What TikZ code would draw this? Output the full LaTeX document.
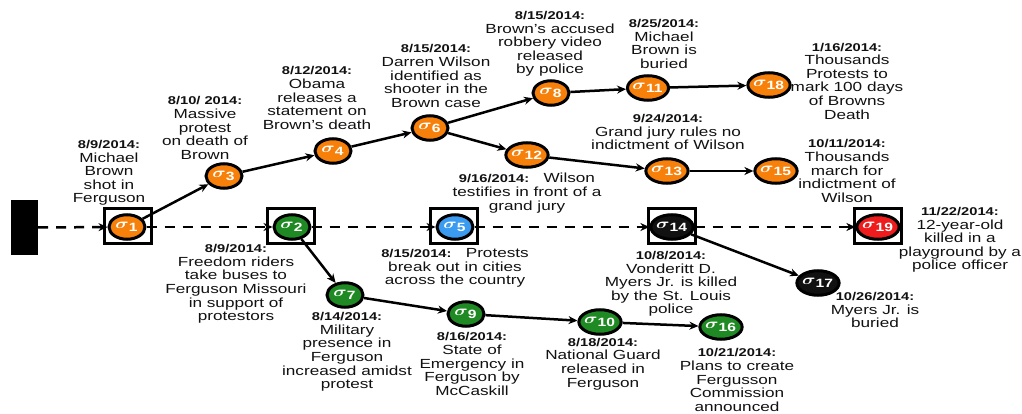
\documentclass[tikz,border=0pt]{standalone}
\usepackage{fontspec}
\usepackage{graphicx}
\setmainfont[FakeStretch=1.3]{Liberation Sans}
\usetikzlibrary{shapes.geometric,arrows.meta}
\definecolor{evorange}{HTML}{F7800A}
\definecolor{evgreen}{HTML}{1F8A24}
\definecolor{evblue}{HTML}{3A9BF0}
\definecolor{evred}{HTML}{EE1C1C}
\definecolor{evblack}{HTML}{111111}
\definecolor{txt}{HTML}{111111}
\tikzset{
  ev/.style={ellipse, draw=black, line width=3pt, minimum width=36pt,
    minimum height=24.5pt, inner sep=0pt, text=white},
  orangeev/.style={ev, fill=evorange},
  greenev/.style={ev, fill=evgreen},
  blueev/.style={ev, fill=evblue},
  redev/.style={ev, fill=evred},
  blackev/.style={ev, fill=evblack},
  frame/.style={draw=black, line width=3pt, minimum width=47.5pt,
    minimum height=35.5pt, inner sep=0pt},
  info/.style={align=center, inner sep=0pt, text=txt,
    font=\fontsize{13.2}{13.6}\selectfont},
  flow/.style={line width=2.5pt, -{Stealth[length=9pt,width=8pt]}},
  timeline/.style={line width=2.5pt, dash pattern=on 10pt off 8pt,
    -{Stealth[length=9pt,width=8pt]}},
}
\newcommand\dt[1]{{\fontsize{11.3}{13.6}\selectfont\bfseries #1}}
\newcommand\sg[1]{\hspace*{-1pt}\scalebox{1.3}[1]{\fontsize{15}{15}\selectfont\boldmath$\sigma$}\raisebox{-3.5pt}{\fontsize{12}{12}\selectfont\bfseries #1}}
\begin{document}
\begin{tikzpicture}[x=1pt,y=-1pt]
\useasboundingbox (0,0) rectangle (1022,414);

% start marker of the timeline
\node[fill=black, minimum width=27pt, minimum height=55pt, inner sep=0pt] (bar) at (24.5,227.5) {};

% framed milestones on the timeline
\node[frame] (f1) at (128,226) {};
\node[frame] (f2) at (291,226) {};
\node[frame] (f5) at (454,226) {};
\node[frame] (f14) at (672,226) {};
\node[frame] (f19) at (878,226) {};

% events
\node[orangeev] (s1) at (127,227) {\sg{1}};
\node[greenev] (s2) at (292,227) {\sg{2}};
\node[blueev] (s5) at (455,227) {\sg{5}};
\node[blackev] (s14) at (672,227) {\sg{14}};
\node[redev] (s19) at (878,227) {\sg{19}};

\node[orangeev] (s3) at (224,176) {\sg{3}};
\node[orangeev] (s4) at (333,151) {\sg{4}};
\node[orangeev] (s6) at (430,128) {\sg{6}};
\node[orangeev] (s8) at (551,93) {\sg{8}};
\node[orangeev] (s11) at (648,88) {\sg{11}};
\node[orangeev] (s18) at (769,85) {\sg{18}};
\node[orangeev] (s12) at (527,155) {\sg{12}};
\node[orangeev] (s13) at (667,171) {\sg{13}};
\node[orangeev] (s15) at (776,171) {\sg{15}};

\node[greenev] (s7) at (345,295) {\sg{7}};
\node[greenev] (s9) at (466,314) {\sg{9}};
\node[greenev] (s10) at (600,322) {\sg{10}};
\node[greenev] (s16) at (721,327) {\sg{16}};
\node[blackev] (s17) at (818,283) {\sg{17}};

% timeline
\draw[timeline] (bar) -- (s1);
\draw[timeline] (s1) -- (s2);
\draw[timeline] (s2) -- (s5);
\draw[timeline] (s5) -- (s14);
\draw[timeline] (s14) -- (s19);

% causal links
\draw[flow] (s1) -- (s3);
\draw[flow] (s3) -- (s4);
\draw[flow] (s4) -- (s6);
\draw[flow] (s6) -- (s8);
\draw[flow] (s6) -- (s12);
\draw[flow] (s8) -- (s11);
\draw[flow] (s11) -- (s18);
\draw[flow] (s12) -- (s13);
\draw[flow] (s13) -- (s15);
\draw[flow] (s2) -- (s7);
\draw[flow] (s7) -- (s9);
\draw[flow] (s9) -- (s10);
\draw[flow] (s10) -- (s16);
\draw[flow] (s14) -- (s17);

% descriptions
\node[info] (t1) at (109,173) {\dt{8/9/2014:}\\Michael\\Brown\\shot in\\Ferguson};
\node[info] (t3) at (205,128) {\dt{8/10/ 2014:}\\Massive\\protest\\on death of\\Brown};
\node[info] (t4) at (317,98) {\dt{8/12/2014:}\\Obama\\releases a\\statement on\\Brown's death};
\node[info] (t6) at (436,76) {\dt{8/15/2014:}\\Darren Wilson\\identified as\\shooter in the\\Brown case};
\node[info] (t8) at (550,44) {\dt{8/15/2014:}\\Brown's accused\\robbery video\\released\\by police};
\node[info] (t11) at (664,44) {\dt{8/25/2014:}\\Michael\\Brown is\\buried};
\node[info] (t18) at (847,81) {\dt{1/16/2014:}\\Thousands\\Protests to\\mark 100 days\\of Browns\\Death};
\node[info] (t12) at (527,193) {\dt{9/16/2014:}\ \ \ Wilson\\testifies in front of a\\grand jury};
\node[info] (t13) at (668,132) {\dt{9/24/2014:}\\Grand jury rules no\\indictment of Wilson};
\node[info] (t15) at (847,171) {\dt{10/11/2014:}\\Thousands\\march for\\indictment of\\Wilson};
\node[info] (t19) at (960,240) {\dt{11/22/2014:}\\12-year-old\\killed in a\\playground by a\\police officer};
\node[info] (t2) at (236,284) {\dt{8/9/2014:}\\Freedom riders\\take buses to\\Ferguson Missouri\\in support of\\protestors};
\node[info] (t5) at (455,268) {\dt{8/15/2014:}\ \ \ Protests\\break out in cities\\across the country};
\node[info] (t14) at (671,284) {\dt{10/8/2014:}\\Vonderitt D.\\Myers Jr. is killed\\by the St. Louis\\police};
\node[info] (t17) at (875,310) {\dt{10/26/2014:}\\Myers Jr. is\\buried};
\node[info] (t7) at (347,352) {\dt{8/14/2014:}\\Military\\presence in\\Ferguson\\increased amidst\\protest};
\node[info] (t9) at (472,364) {\dt{8/16/2014:}\\State of\\Emergency in\\Ferguson by\\McCaskill};
\node[info] (t10) at (603,364) {\dt{8/18/2014:}\\National Guard\\released in\\Ferguson};
\node[info] (t16) at (737,380) {\dt{10/21/2014:}\\Plans to create\\Fergusson\\Commission\\announced};
\end{tikzpicture}
\end{document}
